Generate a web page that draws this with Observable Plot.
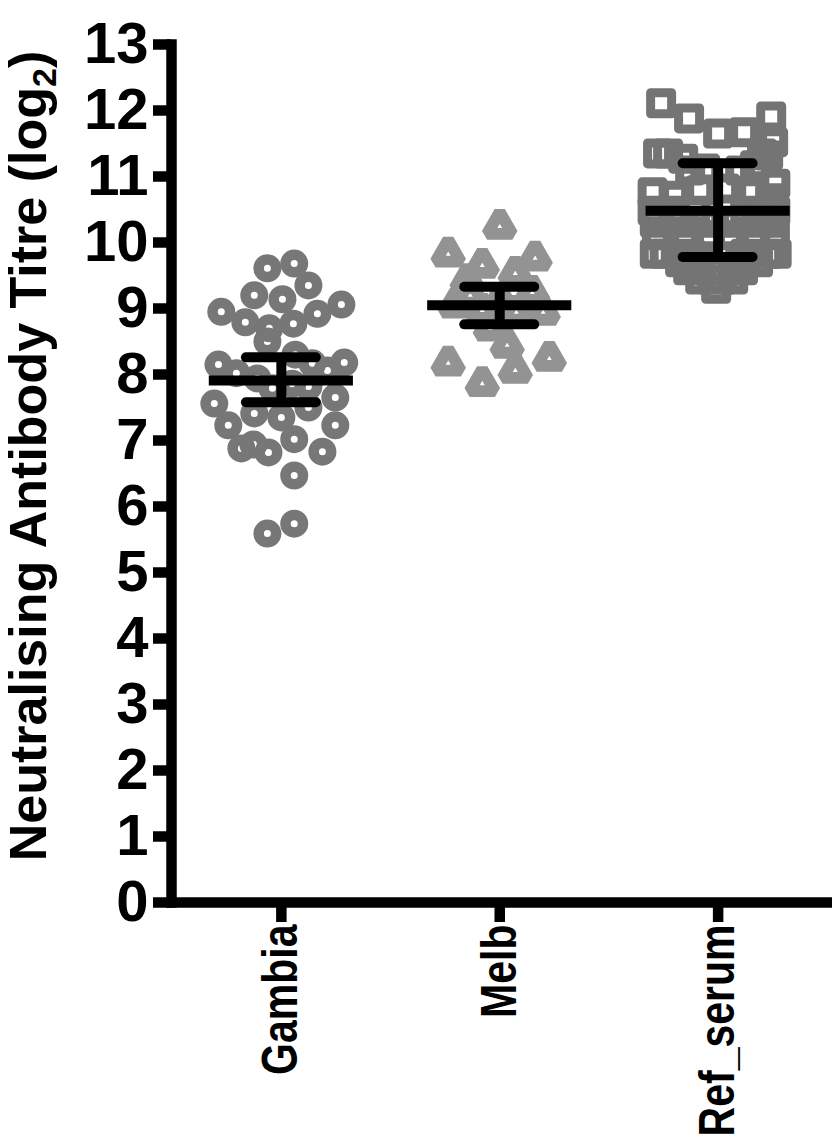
<!DOCTYPE html>
<html><head><meta charset="utf-8">
<script src="https://cdn.jsdelivr.net/npm/d3@7"></script>
<script src="https://cdn.jsdelivr.net/npm/@observablehq/plot@0.6"></script>
<style>body{margin:0;background:#fff} svg{display:block}</style>
</head><body><div id="chart"></div>
<script>
const groups = ["Gambia", "Melb", "Ref_serum"];
const yTicks = [0,1,2,3,4,5,6,7,8,9,10,11,12,13];
const yLabel = "Neutralising Antibody Titre (log2)";

// Gambia (circles): titre values and horizontal scatter offset (in category steps)
const gambiaValues = [9.61,9.68,9.35,9.20,9.14,8.95,9.06,8.92,8.79,8.77,8.70,8.50,8.30,8.17,8.15,8.18,8.06,8.02,7.94,7.86,7.82,7.79,7.56,7.65,7.50,7.41,7.35,7.23,7.23,7.02,6.88,6.94,6.82,6.83,6.47,5.74,5.59];
const gambiaOffsets = [-0.064,0.059,0.124,-0.124,0.005,-0.275,0.275,0.165,-0.165,0.055,-0.055,-0.064,0.064,0.142,-0.288,0.288,0.211,-0.206,-0.110,0.050,0.124,-0.041,-0.307,0.247,0.124,-0.124,0.000,-0.243,0.247,0.059,-0.183,-0.128,-0.059,0.188,0.059,0.059,-0.064];

// Melb (triangles)
const melbValues = [10.24,9.82,9.65,9.76,9.53,9.42,9.24,9.05,8.97,8.94,8.94,8.70,8.44,8.17,8.24,8.06,7.86,9.12,9.20];
const melbOffsets = [0.000,-0.236,-0.080,0.162,0.071,-0.149,0.149,-0.204,-0.080,0.076,0.199,-0.043,0.034,-0.236,0.227,0.071,-0.080,0.002,-0.135];

// Ref_serum (squares)
const refValues = [12.11,11.88,11.91,11.65,11.67,11.52,11.35,11.35,11.27,11.35,11.32,11.09,11.12,11.09,11.17,10.89,10.76,10.71,10.79,10.82,10.76,10.67,
  10.48,10.48,10.48,10.48,10.48,10.48,
  10.30,10.30,10.30,10.30,10.30,10.30,
  10.11,10.11,10.11,10.11,10.11,10.11,
  9.83,9.83,9.83,9.83,9.83,9.83,
  9.70,9.70,9.70,9.70,
  9.58,9.58,9.58,9.58,9.58,
  9.44,9.44,9.44,9.44,
  9.30];
const refOffsets = [-0.261,-0.133,0.243,0.000,0.119,0.252,-0.275,-0.229,-0.160,0.201,0.229,-0.128,-0.059,0.101,0.169,0.262,-0.300,-0.197,-0.082,0.032,0.156,0.238,
  -0.300,-0.200,-0.105,0.124,0.220,0.262,
  -0.290,-0.174,-0.059,0.078,0.192,0.255,
  -0.280,-0.151,-0.037,0.055,0.169,0.260,
  -0.290,-0.245,-0.128,0.124,0.229,0.268,
  -0.174,-0.082,0.101,0.183,
  -0.137,-0.027,0.018,0.069,0.114,
  -0.082,-0.027,0.018,0.069,
  -0.009];

// Mean and error bar limits
const means = [7.91, 9.05, 10.48];
const errLow = [7.58, 8.76, 9.78];
const errHigh = [8.26, 9.33, 11.20];

const toPoints = (vals, offs, gi) => vals.map((v, i) => ({group: groups[gi], pos: gi + offs[i], value: v}));
const gambia = toPoints(gambiaValues, gambiaOffsets, 0);
const melb = toPoints(melbValues, melbOffsets, 1);
const ref = toPoints(refValues, refOffsets, 2);
const errors = groups.map((g, i) => ({group: g, idx: i, mean: means[i], low: errLow[i], high: errHigh[i]}));

const FONT = "'Liberation Sans', Arial, Helvetica, sans-serif";
const LW = 10.5;

const plot = Plot.plot({
  width: 832,
  height: 1146,
  marginLeft: 171,
  marginRight: 3,
  marginTop: 44,
  marginBottom: 244,
  x: {type: "linear", domain: [-0.503, 2.51]},
  y: {domain: [0, 13]},
  style: {fontFamily: FONT, background: "white", color: "black"},
  marks: [
    Plot.dot(gambia, {x: "pos", y: "value", symbol: "circle", r: 8.75, fill: "none", stroke: "#777777", strokeWidth: 10.5}),
    Plot.dot(melb, {x: "pos", y: "value", symbol: "triangle", r: 9.4, fill: "none", stroke: "#939393", strokeWidth: 11.8, strokeLinejoin: "bevel"}),
    Plot.dot(ref, {x: "pos", y: "value", symbol: "square", r: 11.85, fill: "none", stroke: "#747474", strokeWidth: 9, strokeLinejoin: "round"}),
    Plot.ruleY(errors, {y: "mean", x1: d => d.idx - 0.33, x2: d => d.idx + 0.33, stroke: "black", strokeWidth: 10}),
    Plot.ruleX(errors, {x: "idx", y1: "low", y2: "high", stroke: "black", strokeWidth: 10}),
    Plot.ruleY(errors, {y: "high", x1: d => d.idx - 0.16, x2: d => d.idx + 0.16, stroke: "black", strokeWidth: 10, strokeLinecap: "round"}),
    Plot.ruleY(errors, {y: "low", x1: d => d.idx - 0.16, x2: d => d.idx + 0.16, stroke: "black", strokeWidth: 10, strokeLinecap: "round"}),
    Plot.frame({anchor: "left", stroke: "black", strokeWidth: LW}),
    Plot.frame({anchor: "bottom", stroke: "black", strokeWidth: LW}),
    Plot.axisY(yTicks, {tickSize: 18, tickPadding: 5, tickFormat: d3.format("d"), strokeWidth: LW, stroke: "black", fill: "black", fontSize: 58, fontWeight: "bold", fontFamily: FONT, label: null}),
    Plot.axisX([0, 1, 2], {tickSize: 20, tickPadding: 2, tickRotate: -90, tickFormat: i => groups[i], strokeWidth: LW, stroke: "black", fill: "black", fontSize: 50, fontWeight: "bold", fontFamily: FONT, label: null}),
    Plot.text([yLabel], {frameAnchor: "left", textAnchor: "middle", rotate: -90, dx: -142.6, dy: -17.5, fontSize: 52, fontWeight: "bold", fill: "black", fontFamily: FONT})
  ]
});

document.getElementById("chart").appendChild(plot);

// condensed look of the category labels (narrow bold face)
d3.select(plot).selectAll('g[aria-label="x-axis tick label"] text').each(function() {
  const tr = this.getAttribute("transform") || "";
  this.setAttribute("transform", tr + " scale(0.82,1)");
});

// subscript the "2" in log2
d3.select(plot).selectAll("text").filter(function() { return this.textContent === yLabel; }).each(function() {
  const t = d3.select(this);
  t.text("Neutralising Antibody Titre (log");
  t.append("tspan").attr("font-size", 34).attr("dy", 10).text("2");
  t.append("tspan").attr("dy", -10).text(")");
});
</script>
</body></html>
